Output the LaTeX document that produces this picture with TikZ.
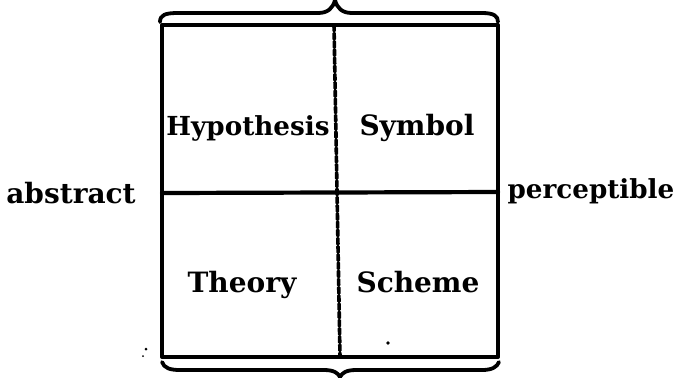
\documentclass[tikz,border=0pt]{standalone}
\usepackage{fontspec}
\setmainfont{DejaVu Serif}
\begin{document}
\begin{tikzpicture}[x=0.5pt,y=-0.5pt,line cap=round,line join=round]
\tikzset{
  lbl/.style={font=\bfseries\fontsize{14}{16}\selectfont,inner sep=0pt,anchor=base},
  lblsmall/.style={lbl,font=\bfseries\fontsize{13.1}{15}\selectfont},
  frame/.style={line width=2pt},
  divider/.style={line width=1.8pt,dash pattern=on 3pt off 1.1pt},
  bracestyle/.style={line width=1.9pt},
  speck/.style={fill=black,draw=none}
}
\useasboundingbox (0,0) rectangle (673,377);
% frame
\draw[frame] (162,25) rectangle (498,357);
% dividers
\coordinate (vt) at (334,25);
\coordinate (vb) at (340,357);
\draw[divider] (vt) -- (vb);
\coordinate (hl) at (162,193);
\coordinate (hr) at (498,192);
\draw[line width=2.1pt] (hl) -- (hr);
% top brace
\draw[bracestyle] (160,22) .. controls (160,15) and (165,13) .. (178,13)
  -- (318,13) .. controls (328,13) and (333,8) .. (335,0)
  .. controls (337,8) and (342,13) .. (352,13)
  -- (482,13) .. controls (494,13) and (498,16) .. (498,22);
% bottom brace
\draw[bracestyle] (162,362) .. controls (164,368) and (170,370) .. (180,370)
  -- (324,370) .. controls (334,370) and (338,373) .. (340,377)
  .. controls (342,373) and (346,370) .. (356,370)
  -- (482,370) .. controls (492,370) and (497,367) .. (499,362);
% labels
\node[lblsmall] (hyp) at (248,135) {Hypothesis};
\node[lbl] (sym) at (417,135) {Symbol};
\node[lbl] (the) at (242,292) {Theory};
\node[lbl] (sch) at (418,292) {Scheme};
\node[lbl] (abs) at (71,203) {abstract};
\node[lblsmall] (per) at (591,198) {perceptible};
% specks
\fill[speck] (388,343) circle (1.8);
\fill[speck] (146,349) circle (1.5);
\fill[speck] (143,356) circle (1);
\end{tikzpicture}
\end{document}
